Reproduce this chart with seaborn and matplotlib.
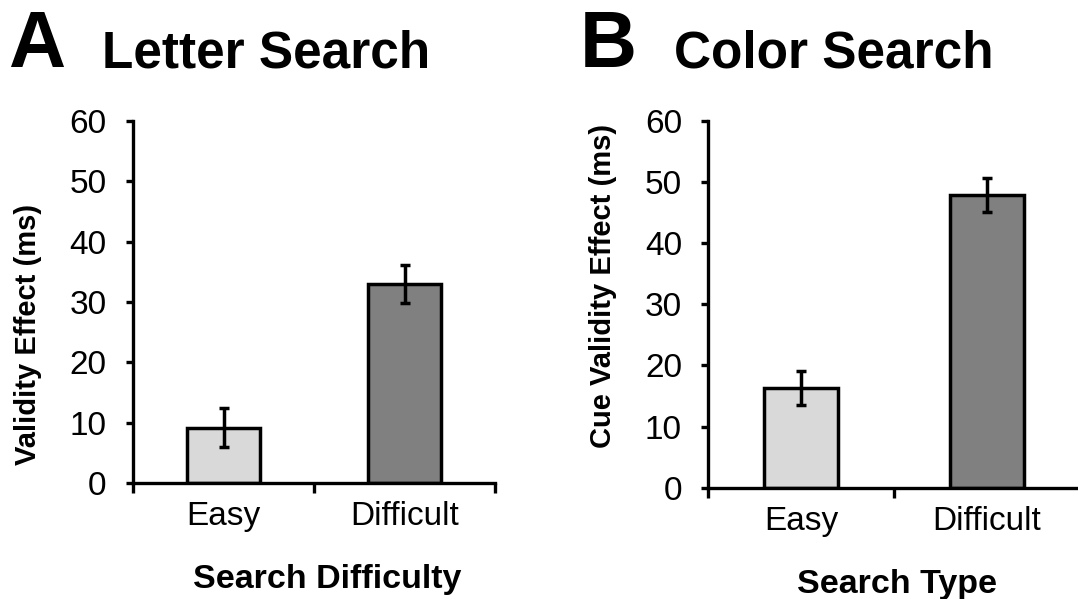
import matplotlib
matplotlib.use("Agg")
import matplotlib.pyplot as plt
import seaborn as sns
import numpy as np

# ---- data ----
categories = ["Easy", "Difficult"]
letter_vals = [9.2, 33.0]
letter_err = [3.2, 3.1]
color_vals = [16.3, 47.9]
color_err = [2.7, 2.8]
bar_colors = ["#d9d9d9", "#808080"]
yticks = [0, 10, 20, 30, 40, 50, 60]

sns.set_theme(style="white")
plt.rcParams["font.family"] = ["Liberation Sans", "DejaVu Sans"]
plt.rcParams["text.color"] = "black"
plt.rcParams["axes.labelcolor"] = "black"

W, H = 1078, 599
fig = plt.figure(figsize=(W / 100, H / 100), dpi=100)

def px_axes(left, top, right, bottom):
    return fig.add_axes([left / W, 1 - bottom / H, (right - left) / W, (bottom - top) / H])

ax1 = px_axes(133, 120.7, 495, 483.3)
ax2 = px_axes(708.3, 120.7, 1080, 487.7)

def draw(ax, vals, errs, xlabel, ylabel, ylab_xy, xlab_x):
    sns.barplot(x=categories, y=vals, hue=categories, palette=bar_colors,
                width=0.4, edgecolor="black", linewidth=2.5, legend=False,
                ax=ax, zorder=2)
    ax.errorbar(x=np.arange(len(categories)), y=vals, yerr=errs, fmt="none",
                ecolor="black", elinewidth=2.5, capsize=3.5, capthick=2.5, zorder=3)
    ax.set_xlim(-0.5, 1.5)
    ax.set_ylim(0, 60)
    ax.set_yticks(yticks)
    ax.set_yticklabels([str(t) for t in yticks])
    for s in ["top", "right"]:
        ax.spines[s].set_visible(False)
    for s in ["left", "bottom"]:
        ax.spines[s].set_linewidth(2.4)
        ax.spines[s].set_color("black")
        ax.spines[s].set_zorder(4)
    ax.spines["bottom"].set_capstyle("projecting")
    ax.tick_params(axis="y", direction="out", length=5, width=2.4, color="black",
                   labelsize=24, pad=14, left=True, labelcolor="black")
    ax.tick_params(axis="x", which="major", length=0, labelsize=24, pad=13,
                   labelcolor="black")
    ax.set_xticks([-0.5, 0.5, 1.5], minor=True)
    ax.tick_params(axis="x", which="minor", direction="out", length=7, width=2.4,
                   color="black", bottom=True)
    ax.set_xlabel(xlabel, fontsize=24.5, fontweight="bold",
                  labelpad=23, color="black")
    ax.xaxis.label.set_x(xlab_x)
    ax.set_ylabel(ylabel, fontsize=21, fontweight="bold", color="black", va="center")
    ax.yaxis.set_label_coords(*ylab_xy)
    ax.grid(False)

draw(ax1, letter_vals, letter_err, "Search Difficulty", "Validity Effect (ms)", (-0.29, 0.41), 0.536)
draw(ax2, color_vals, color_err, "Search Type", "Cue Validity Effect (ms)", (-0.283, 0.55), 0.509)

fig.text(8 / W, 1 - 67 / H, "A", fontsize=57, fontweight="bold", va="baseline", ha="left", color="black")
fig.text(102 / W, 1 - 67 / H, "Letter Search", fontsize=37, fontweight="bold", va="baseline", ha="left", color="black")
fig.text(580 / W, 1 - 67 / H, "B", fontsize=57, fontweight="bold", va="baseline", ha="left", color="black")
fig.text(674 / W, 1 - 67 / H, "Color Search", fontsize=37, fontweight="bold", va="baseline", ha="left", color="black")

fig.savefig("out.png", dpi=100, facecolor="white")
